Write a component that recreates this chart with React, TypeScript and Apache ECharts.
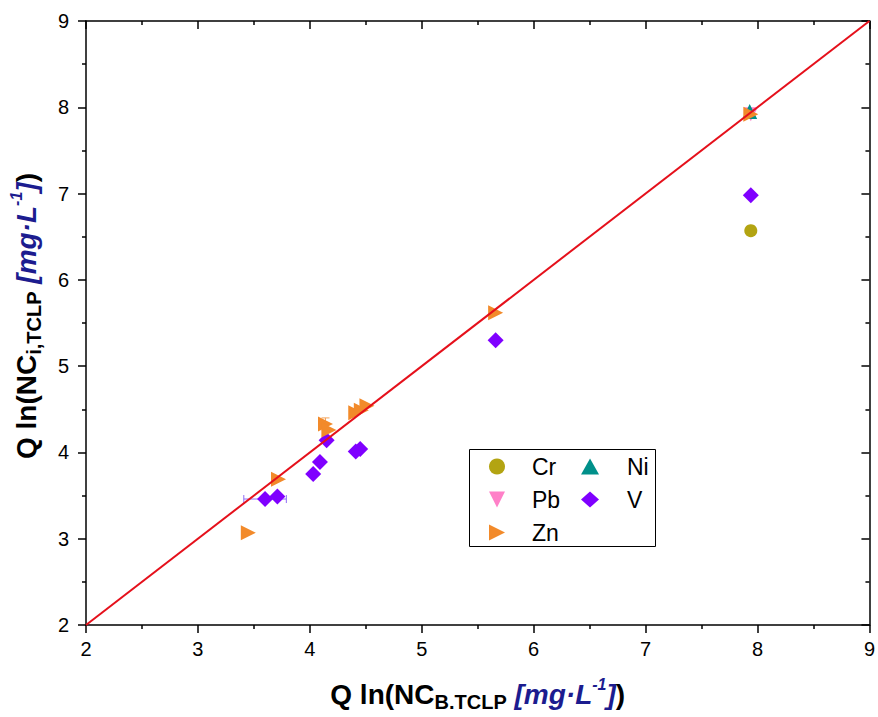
import React, { useEffect, useRef } from "react";
import * as echarts from "echarts";

// Axis range and ticks
const axisMin = 2;
const axisMax = 9;
const axisInterval = 1;

// Measured points per element: x = Q ln(NC_B,TCLP), y = Q ln(NC_i,TCLP)
const crX = [7.94];
const crY = [6.57];

const pbX = [7.94];
const pbY = [7.92];

const niX = [7.93];
const niY = [7.95];

const vX = [3.6, 3.71, 4.03, 4.09, 4.15, 4.41, 4.45, 5.66, 7.94];
const vY = [3.46, 3.49, 3.75, 3.89, 4.14, 4.01, 4.04, 5.3, 6.98];
const vXErr = [0.19, 0, 0, 0, 0, 0, 0, 0, 0];

const znX = [3.45, 3.72, 4.14, 4.17, 4.41, 4.46, 4.51, 5.66, 7.94];
const znY = [3.07, 3.69, 4.33, 4.26, 4.46, 4.49, 4.54, 5.62, 7.92];
const znYErr = [0, 0, 0.07, 0, 0, 0, 0, 0, 0];

// 1:1 reference line
const refLineX = [2, 9];
const refLineY = [2, 9];

const FONT = "'Liberation Sans', Arial, Helvetica, sans-serif";

// Legend icons: right- and down-pointing triangles
const ICON_RIGHT = "path://M0,0 L10,5 L0,10 Z";
const ICON_DOWN = "path://M0,0 L10,0 L5,10 Z";

const zip = (xs: number[], ys: number[]) => xs.map((x, i) => [x, ys[i]]);

const titleRich = {
  b: { fontFamily: FONT, fontWeight: "bold", fontSize: 28, color: "#000", lineHeight: 36, verticalAlign: "middle" },
  sub: { fontFamily: FONT, fontWeight: "bold", fontSize: 20, color: "#000", lineHeight: 20, verticalAlign: "bottom" },
  u: { fontFamily: FONT, fontWeight: "bold", fontStyle: "italic", fontSize: 28, color: "#1c1c8f", lineHeight: 36, verticalAlign: "middle" },
  sup: { fontFamily: FONT, fontWeight: "bold", fontStyle: "italic", fontSize: 16, color: "#1c1c8f", lineHeight: 16, verticalAlign: "top" },
};

function errorBarRenderer(color: string, horizontal: boolean) {
  return (_params: any, api: any) => {
    const x = api.value(0);
    const y = api.value(1);
    const e = api.value(2);
    if (!e) return null;
    const a = horizontal ? api.coord([x - e, y]) : api.coord([x, y - e]);
    const b = horizontal ? api.coord([x + e, y]) : api.coord([x, y + e]);
    const cap = 4;
    const style = { stroke: color, lineWidth: 1 };
    const capLine = (p: number[]) =>
      horizontal
        ? { type: "line", shape: { x1: p[0], y1: p[1] - cap, x2: p[0], y2: p[1] + cap }, style }
        : { type: "line", shape: { x1: p[0] - cap, y1: p[1], x2: p[0] + cap, y2: p[1] }, style };
    return {
      type: "group",
      children: [
        { type: "line", shape: { x1: a[0], y1: a[1], x2: b[0], y2: b[1] }, style },
        capLine(a),
        capLine(b),
      ],
    };
  };
}

export default function App() {
  const ref = useRef<HTMLDivElement>(null);

  useEffect(() => {
    document.body.style.margin = "0";
    if (!ref.current) return;
    const chart = echarts.init(ref.current, null, { renderer: "svg" });

    const axisLine = { show: true, lineStyle: { color: "#000", width: 1.5 } };
    const tickStyle = { color: "#000", width: 1.5 };

    const legendText = { fontFamily: FONT, fontSize: 23, color: "#000", lineHeight: 21 };

    const option: any = {
      animation: false,
      backgroundColor: "#fff",
      grid: { left: 84, right: 7, top: 21, bottom: 92, containLabel: false },
      xAxis: [
        {
          type: "value",
          min: axisMin,
          max: axisMax,
          interval: axisInterval,
          position: "bottom",
          axisLine,
          axisTick: { show: true, inside: false, length: 8, lineStyle: tickStyle },
          minorTick: { show: true, splitNumber: 2, length: 4, lineStyle: tickStyle },
          splitLine: { show: false },
          axisLabel: { fontFamily: FONT, fontSize: 20, color: "#000", margin: 14 },
          name: "{b|Q ln(NC}{sub|B.TCLP}{u| [mg·L}{sup|-1}{u|]}{b|)}",
          nameLocation: "middle",
          nameGap: 51,
          nameTextStyle: { rich: titleRich },
        },
        {
          type: "value",
          min: axisMin,
          max: axisMax,
          interval: axisInterval,
          position: "top",
          axisLine,
          axisTick: { show: true, inside: true, length: 8, lineStyle: tickStyle },
          minorTick: { show: true, splitNumber: 2, length: 4, lineStyle: tickStyle },
          splitLine: { show: false },
          axisLabel: { show: false },
        },
      ],
      yAxis: [
        {
          type: "value",
          min: axisMin,
          max: axisMax,
          interval: axisInterval,
          position: "left",
          axisLine,
          axisTick: { show: true, inside: false, length: 8, lineStyle: tickStyle },
          minorTick: { show: true, splitNumber: 2, length: 4, lineStyle: tickStyle },
          splitLine: { show: false },
          axisLabel: { fontFamily: FONT, fontSize: 20, color: "#000", margin: 17 },
          name: "{b|Q ln(NC}{sub|i,TCLP}{u| [mg·L}{sup|-1}{u|]}{b|)}",
          nameLocation: "middle",
          nameGap: 42,
          nameRotate: 90,
          nameTextStyle: { rich: titleRich, padding: [0, 0, 0, 14] },
        },
        {
          type: "value",
          min: axisMin,
          max: axisMax,
          interval: axisInterval,
          position: "right",
          axisLine,
          axisTick: { show: true, inside: true, length: 8, lineStyle: tickStyle },
          minorTick: { show: true, splitNumber: 2, length: 4, lineStyle: tickStyle },
          splitLine: { show: false },
          axisLabel: { show: false },
        },
      ],
      legend: [
        {
          data: [
            { name: "Cr", icon: "circle" },
            { name: "Pb", icon: ICON_DOWN },
            { name: "Zn", icon: ICON_RIGHT },
          ],
          orient: "vertical",
          left: 489,
          top: 455,
          padding: 0,
          itemGap: 10,
          itemWidth: 18,
          itemHeight: 16,
          textStyle: { ...legendText, padding: [0, 0, 0, 21] },
        },
        {
          data: [
            { name: "Ni", icon: "triangle" },
            { name: "V", icon: "diamond" },
          ],
          orient: "vertical",
          left: 581,
          top: 455,
          padding: 0,
          itemGap: 10,
          itemWidth: 18,
          itemHeight: 16,
          textStyle: { ...legendText, padding: [0, 0, 0, 23] },
        },
      ],
      graphic: [
        {
          type: "rect",
          left: 467,
          top: 447,
          z: 0,
          shape: { width: 186, height: 97 },
          style: { fill: "none", stroke: "#000", lineWidth: 1 },
        },
      ],
      series: [
        {
          type: "custom",
          name: "V error",
          z: 1,
          renderItem: errorBarRenderer("#8f6cf5", true),
          data: vX.map((x, i) => [x, vY[i], vXErr[i]]),
          encode: { x: 0, y: 1 },
        },
        {
          type: "custom",
          name: "Zn error",
          z: 1,
          renderItem: errorBarRenderer("#f3a25a", false),
          data: znX.map((x, i) => [x, znY[i], znYErr[i]]),
          encode: { x: 0, y: 1 },
        },
        {
          type: "scatter",
          name: "Cr",
          symbol: "circle",
          symbolSize: 13,
          itemStyle: { color: "#b3a412", opacity: 1 },
          data: zip(crX, crY),
          z: 2,
        },
        {
          type: "scatter",
          name: "Pb",
          symbol: "triangle",
          symbolRotate: 180,
          symbolSize: 14,
          itemStyle: { color: "#ff80c8", opacity: 1 },
          data: zip(pbX, pbY),
          z: 2,
        },
        {
          type: "scatter",
          name: "Ni",
          symbol: "triangle",
          symbolSize: 15,
          itemStyle: { color: "#00908a", opacity: 1 },
          data: zip(niX, niY),
          z: 2,
        },
        {
          type: "scatter",
          name: "V",
          symbol: "diamond",
          symbolSize: 16,
          itemStyle: { color: "#7f00ff", opacity: 1 },
          data: zip(vX, vY),
          z: 3,
        },
        {
          type: "scatter",
          name: "Zn",
          symbol: "triangle",
          symbolRotate: -90,
          symbolSize: 15,
          itemStyle: { color: "#f28a2a", opacity: 1 },
          data: zip(znX, znY),
          z: 4,
        },
        {
          type: "line",
          name: "1:1",
          data: zip(refLineX, refLineY),
          symbol: "none",
          lineStyle: { color: "#e5101b", width: 2 },
          z: 5,
        },
      ],
    };

    chart.setOption(option);
    return () => chart.dispose();
  }, []);

  return <div ref={ref} style={{ width: 878, height: 717 }} />;
}
